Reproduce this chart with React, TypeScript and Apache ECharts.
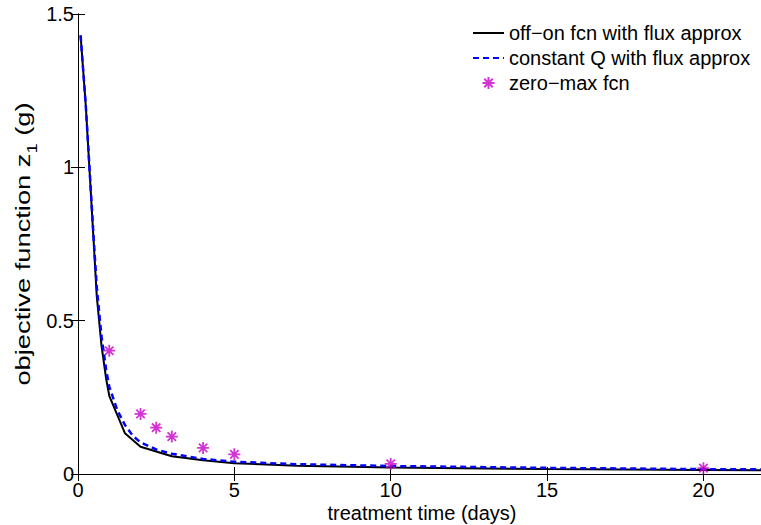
import React, { useEffect, useRef } from "react";
import * as echarts from "echarts";

const FONT = "'Liberation Sans', Arial, Helvetica, sans-serif";

const seriesNames = [
  "off\u2212on fcn with flux approx",
  "constant Q with flux approx",
  "zero\u2212max fcn",
];

const tOffOn = [0.083, 0.25, 0.5, 0.6, 0.75, 0.9, 1, 1.5, 2, 3, 4, 5, 7, 10, 15, 20, 22];
const zOffOn = [1.43, 1.2, 0.76, 0.58, 0.42, 0.31, 0.255, 0.133, 0.089, 0.058, 0.045, 0.035, 0.027, 0.021, 0.016, 0.013, 0.012];

const tConstQ = [0.083, 0.25, 0.5, 0.6, 0.75, 0.9, 1, 1.25, 1.5, 1.75, 2, 2.5, 3, 4, 5, 7, 10, 15, 20, 22];
const zConstQ = [1.43, 1.2, 0.77, 0.61, 0.45, 0.34, 0.285, 0.21, 0.16, 0.125, 0.103, 0.08, 0.066, 0.049, 0.04, 0.032, 0.026, 0.02, 0.016, 0.015];

const tZeroMax = [1, 2, 2.5, 3, 4, 5, 10, 20];
const zZeroMax = [0.402, 0.196, 0.151, 0.122, 0.085, 0.064, 0.033, 0.019];

const xMin = 0;
const xMax = 22;
const xInterval = 5;
const yMin = 0;
const yMax = 1.5;
const yInterval = 0.5;

const STAR = "path://M0,5L10,5M5,0L5,10M1.5,1.5L8.5,8.5M1.5,8.5L8.5,1.5";

const zip = (a: number[], b: number[]) => a.map((v, i) => [v, b[i]]);

export default function App() {
  const ref = useRef<HTMLDivElement>(null);
  useEffect(() => {
    if (!ref.current) return;
    const chart = echarts.init(ref.current, null, { renderer: "svg" });
    const axisLine = { show: true, lineStyle: { color: "#000", width: 1 } };
    const tick = { show: true, inside: true, length: 7, lineStyle: { color: "#000", width: 1 } };
    const hiddenSymbol = { color: "rgba(0,0,0,0)", borderWidth: 0, opacity: 0 };
    chart.setOption({
      animation: false,
      backgroundColor: "#fff",
      grid: { left: 78, top: 14, width: 688, height: 460, containLabel: false, outerBoundsMode: "none" },
      legend: {
        orient: "vertical",
        left: 472,
        top: 23,
        padding: 0,
        itemWidth: 31,
        itemHeight: 12,
        itemGap: 5,
        selectedMode: false,
        textStyle: { fontSize: 20, color: "#000", fontFamily: FONT },
        data: [
          { name: seriesNames[0], itemStyle: hiddenSymbol },
          { name: seriesNames[1], itemStyle: hiddenSymbol },
          { name: seriesNames[2] },
        ],
      },
      graphic: [
        {
          type: "text",
          x: 23,
          y: 244,
          rotation: Math.PI / 2,
          scaleX: 1.3,
          style: {
            text: "{a|objective function z}{s|1}{a| (g)}",
            align: "center",
            verticalAlign: "middle",
            fill: "#000",
            fontSize: 21,
            fontFamily: FONT,
            rich: {
              a: { fontSize: 21, fill: "#000", fontFamily: FONT, lineHeight: 21 },
              s: { fontSize: 14, fill: "#000", fontFamily: FONT, lineHeight: 31, verticalAlign: "bottom" },
            },
          },
        },
      ],
      xAxis: [
        {
          type: "value",
          min: xMin,
          max: xMax,
          interval: xInterval,
          position: "bottom",
          axisLine,
          axisTick: tick,
          splitLine: { show: false },
          axisLabel: { fontSize: 20, color: "#000", fontFamily: FONT, margin: 6, showMaxLabel: false },
          name: "treatment time (days)",
          nameLocation: "middle",
          nameGap: 29,
          nameMoveOverlap: false,
          nameTextStyle: { fontSize: 20, color: "#000", fontFamily: FONT },
        },
        {
          type: "value",
          min: xMin,
          max: xMax,
          interval: xInterval,
          position: "top",
          axisLine,
          axisTick: tick,
          splitLine: { show: false },
          axisLabel: { show: false },
        },
      ],
      yAxis: [
        {
          type: "value",
          min: yMin,
          max: yMax,
          interval: yInterval,
          position: "left",
          axisLine,
          axisTick: tick,
          splitLine: { show: false },
          axisLabel: { fontSize: 20, color: "#000", fontFamily: FONT, margin: 4 },
        },
        {
          type: "value",
          min: yMin,
          max: yMax,
          interval: yInterval,
          position: "right",
          axisLine,
          axisTick: tick,
          splitLine: { show: false },
          axisLabel: { show: false },
        },
      ],
      series: [
        {
          name: seriesNames[0],
          type: "line",
          xAxisIndex: 0,
          yAxisIndex: 0,
          data: zip(tOffOn, zOffOn),
          symbol: "none",
          showSymbol: false,
          lineStyle: { color: "#000", width: 2 },
          itemStyle: { color: "#000" },
          z: 2,
        },
        {
          name: seriesNames[1],
          type: "line",
          xAxisIndex: 0,
          yAxisIndex: 0,
          data: zip(tConstQ, zConstQ),
          symbol: "none",
          showSymbol: false,
          lineStyle: { color: "#0000ff", width: 2.5, type: [6, 4] },
          itemStyle: { color: "#0000ff" },
          z: 3,
        },
        {
          name: seriesNames[2],
          type: "scatter",
          xAxisIndex: 0,
          yAxisIndex: 0,
          data: zip(tZeroMax, zZeroMax),
          symbol: STAR,
          symbolSize: 12,
          symbolKeepAspect: true,
          itemStyle: { color: "rgba(0,0,0,0)", borderColor: "#c800c8", borderWidth: 1.8 },
          z: 4,
        },
      ],
    });
    return () => chart.dispose();
  }, []);
  return (
    <div
      ref={ref}
      style={{ position: "fixed", left: 0, top: 0, width: 761, height: 525, background: "#fff" }}
    />
  );
}
